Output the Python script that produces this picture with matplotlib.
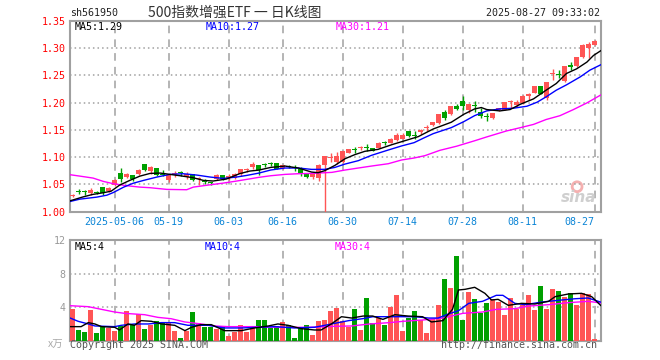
import matplotlib.pyplot as plt
import numpy as np

# daily candles, index 0 = first candle on the left
opens = [1.029, 1.0375, 1.0355, 1.0338, 1.0345, 1.0442, 1.0375, 1.0491, 1.0706, 1.0637,
         1.0665, 1.0695, 1.0866, 1.0743, 1.0792, 1.0694, 1.0584, 1.069, 1.0712, 1.0632,
         1.0682, 1.060, 1.0544, 1.0523, 1.0596, 1.0669, 1.062, 1.062, 1.0682, 1.0765,
         1.0811, 1.0848, 1.0865, 1.0882, 1.0884, 1.0799, 1.0828, 1.0803, 1.0786, 1.0688,
         1.0627, 1.0615, 1.086, 1.0983, 1.0909, 1.0909, 1.1081, 1.1145, 1.1168, 1.117,
         1.1167, 1.1167, 1.1268, 1.1265, 1.1314, 1.1339, 1.148, 1.1391, 1.1455, 1.1541,
         1.159, 1.1627, 1.1836, 1.1787, 1.1946, 1.2032, 1.186, 1.1937, 1.1836, 1.1741,
         1.1713, 1.1861, 1.1873, 1.2003, 1.1959, 1.1996, 1.2118, 1.218, 1.2302, 1.2082,
         1.252, 1.2514, 1.2389, 1.2695, 1.2671, 1.2843, 1.3003, 1.3064]
highs = [1.033, 1.041, 1.039, 1.0435, 1.037, 1.0442, 1.0455, 1.059, 1.080, 1.0712,
         1.0675, 1.079, 1.0875, 1.0845, 1.080, 1.0755, 1.0694, 1.0745, 1.0745, 1.0718,
         1.0694, 1.0632, 1.0602, 1.055, 1.0694, 1.0672, 1.0694, 1.070, 1.078, 1.0792,
         1.0909, 1.0848, 1.0885, 1.0905, 1.089, 1.086, 1.0848, 1.0848, 1.0823, 1.0692,
         1.072, 1.0872, 1.1026, 1.1069, 1.1093, 1.1105, 1.1142, 1.1179, 1.1204, 1.124,
         1.1167, 1.127, 1.1302, 1.1351, 1.1449, 1.1437, 1.148, 1.1486, 1.151, 1.1584,
         1.165, 1.179, 1.186, 1.194, 1.1983, 1.2118, 1.1983, 1.2032, 1.191, 1.1811,
         1.1811, 1.191, 1.2008, 1.2045, 1.2045, 1.2143, 1.218, 1.2302, 1.2302, 1.2376,
         1.2622, 1.2597, 1.2671, 1.2745, 1.2843, 1.3076, 1.3113, 1.315]
lows = [1.026, 1.033, 1.030, 1.031, 1.032, 1.0295, 1.035, 1.047, 1.055, 1.062,
        1.056, 1.067, 1.074, 1.069, 1.065, 1.0645, 1.054, 1.063, 1.0645, 1.060,
        1.056, 1.048, 1.0498, 1.049, 1.0572, 1.0585, 1.0572, 1.060, 1.0645, 1.0725,
        1.0787, 1.0676, 1.0823, 1.084, 1.078, 1.078, 1.080, 1.0737, 1.0651, 1.0615,
        1.0602, 1.0565, 0.98, 1.0909, 1.0878, 1.089, 1.107, 1.1081, 1.1137, 1.1106,
        1.1106, 1.116, 1.1216, 1.1253, 1.1302, 1.1327, 1.137, 1.1339, 1.143, 1.148,
        1.158, 1.160, 1.1688, 1.178, 1.186, 1.186, 1.1811, 1.1836, 1.1726, 1.1664,
        1.170, 1.185, 1.186, 1.191, 1.192, 1.1971, 1.2045, 1.217, 1.215, 1.2045,
        1.2425, 1.245, 1.238, 1.2597, 1.266, 1.2818, 1.2818, 1.3052]
closes = [1.031, 1.0365, 1.035, 1.0387, 1.034, 1.0338, 1.043, 1.0583, 1.059, 1.0685,
          1.059, 1.0768, 1.0756, 1.0817, 1.067, 1.067, 1.067, 1.0705, 1.0702, 1.0694,
          1.0583, 1.0614, 1.0536, 1.0515, 1.0669, 1.0596, 1.0657, 1.0694, 1.078, 1.0775,
          1.0872, 1.0762, 1.0855, 1.0874, 1.0786, 1.0848, 1.082, 1.0797, 1.070, 1.0627,
          1.0713, 1.086, 1.1014, 1.0995, 1.1014, 1.1105, 1.1142, 1.1138, 1.1175, 1.1163,
          1.1118, 1.1265, 1.126, 1.1327, 1.1412, 1.1412, 1.1388, 1.1385, 1.150, 1.1547,
          1.164, 1.1787, 1.1713, 1.1934, 1.1885, 1.1934, 1.1983, 1.193, 1.1762, 1.1735,
          1.1811, 1.1897, 1.2008, 1.201, 1.2008, 1.2118, 1.2155, 1.2302, 1.2155, 1.2376,
          1.2526, 1.2508, 1.2671, 1.2646, 1.2843, 1.3052, 1.3076, 1.3138]
volumes = [3.8, 1.26, 1.02, 3.66, 0.9, 1.66, 1.5, 1.18, 1.74, 3.54,
           1.82, 3.14, 1.38, 1.82, 2.34, 2.06, 2.06, 1.18, 0.3, 1.18,
           3.42, 2.14, 1.66, 1.66, 1.38, 1.66, 0.54, 1.02, 1.82, 1.02,
           1.66, 2.46, 2.46, 1.5, 1.74, 2.22, 1.82, 0.3, 1.66, 1.82,
           0.62, 2.34, 2.46, 3.54, 3.9, 2.34, 1.66, 3.74, 1.26, 5.1,
           2.1, 2.7, 1.9, 4.0, 5.45, 1.14, 2.7, 3.5, 2.42, 0.94,
           2.62, 4.25, 7.36, 6.28, 10.1, 2.46, 5.8, 4.97, 3.33, 4.53,
           4.97, 4.65, 3.05, 5.1, 3.78, 4.25, 5.45, 3.66, 6.5, 3.78,
           6.17, 5.93, 5.21, 5.69, 4.25, 5.69, 5.6, 0.18]

tick_idx = [7, 16, 26, 35, 45, 55, 65, 75, 87]
tick_labels = ["2025-05-06", "05-19", "06-03", "06-16", "06-30",
               "07-14", "07-28", "08-11", "08-27"]
price_ticks = [1.00, 1.05, 1.10, 1.15, 1.20, 1.25, 1.30, 1.35]
vol_ticks = [4, 8, 12]

# moving average curves (candle index, value)
ma5_x = [-0.45, 1.6, 3.3, 5, 6.4, 7.8, 9.5, 11.2, 12.9, 14.6, 16.2, 17.9, 20.1, 21.8, 23.4,
         25.6, 27.8, 29.5, 31, 33, 35.4, 37.6, 39.8, 40.9, 42, 43.7, 45.4, 47, 48.7, 50.9,
         53.2, 55.4, 57.6, 60.1, 63.1, 65.2, 67, 68.1, 69, 71.2, 72.9, 74.6, 76.8, 78.9,
         80.6, 82.3, 84, 85.7, 86.8, 88]
ma5_y = [1.0196, 1.0264, 1.0313, 1.0343, 1.0373, 1.0483, 1.0571, 1.065, 1.070, 1.0706,
         1.0682, 1.0657, 1.062, 1.0571, 1.056, 1.0596, 1.0694, 1.0743, 1.076, 1.081,
         1.0835, 1.0799, 1.0725, 1.0713, 1.075, 1.0847, 1.097, 1.1044, 1.1106, 1.1142,
         1.1228, 1.1302, 1.1376, 1.1517, 1.164, 1.1787, 1.1885, 1.191, 1.1873, 1.1848,
         1.1873, 1.197, 1.2069, 1.2229, 1.2352, 1.2536, 1.2622, 1.2745, 1.2867, 1.2953]
ma10_x = [-0.45, 1.2, 4, 5.7, 6.8, 8.5, 10.1, 11.8, 14, 16.2, 18.4, 20.7, 22.9, 25.1, 27.3,
          29, 31, 33, 35.4, 37.6, 39.8, 42, 43.7, 45.4, 47.6, 49.8, 52.6, 54.8, 56.9, 58.5,
          60.1, 63.1, 65.2, 67, 69, 71.2, 73.4, 75.7, 77.4, 78.9, 80.6, 82.3, 84.6, 86.2, 88]
ma10_y = [1.0184, 1.0227, 1.0264, 1.030, 1.035, 1.0448, 1.052, 1.0571, 1.0632, 1.0682,
          1.0694, 1.0669, 1.0633, 1.0608, 1.0633, 1.0663, 1.0705, 1.0762, 1.0799, 1.0799,
          1.0774, 1.0774, 1.081, 1.0872, 1.0934, 1.1032, 1.113, 1.1204, 1.1265, 1.135,
          1.1431, 1.1541, 1.1652, 1.1762, 1.1848, 1.1885, 1.1897, 1.1934, 1.2008, 1.2106,
          1.2229, 1.2327, 1.2474, 1.2597, 1.2695]
ma30_x = [-0.45, 1.2, 3.4, 5.1, 6.8, 9, 11.2, 12.9, 15.7, 19, 20.1, 21.8, 25.1, 27.3, 29,
          31, 33, 35.4, 37.6, 39.8, 43.2, 45.4, 47.6, 49.8, 52.6, 54.8, 56.9, 58.7, 61.2,
          64, 67, 69, 72.3, 74.6, 76.8, 78.9, 81.2, 83.4, 85.7, 88]
ma30_y = [1.0676, 1.065, 1.0614, 1.0553, 1.051, 1.0474, 1.0448, 1.0437, 1.0406, 1.040,
          1.0448, 1.0474, 1.0522, 1.0559, 1.059, 1.0627, 1.0657, 1.0682, 1.0694, 1.070,
          1.0719, 1.0762, 1.0799, 1.0835, 1.0878, 1.0946, 1.0983, 1.1026, 1.1124, 1.120,
          1.130, 1.137, 1.148, 1.154, 1.160, 1.169, 1.176, 1.187, 1.1995, 1.214]

vma5_x = [-0.45, 1.4, 2.6, 3.7, 4.8, 7, 7.8, 9.2, 10.3, 11.4, 13.1, 14.8, 17, 18.7, 19.8,
          21.4, 23.1, 25.3, 28.1, 30.3, 32.6, 34.2, 35.9, 38.1, 40.3, 41.4, 43.1, 44.8,
          46.5, 48.4, 50, 51.7, 53.7, 55.9, 58.3, 59.8, 61.7, 63.3, 64.3, 65.4, 67, 68.7,
          69.8, 70.9, 72.6, 74.8, 77, 79.3, 80.4, 82.6, 84.8, 86.5, 88]
vma5_y = [1.66, 1.66, 2.14, 1.98, 1.66, 1.58, 1.26, 1.98, 1.82, 2.38, 2.30, 1.98, 1.82,
          1.18, 1.58, 1.9, 1.9, 1.18, 1.18, 1.5, 1.74, 1.98, 1.82, 1.42, 1.26, 1.26, 1.98,
          2.85, 2.69, 2.93, 2.93, 2.53, 3.09, 2.93, 2.85, 2.22, 2.38, 3.73, 6.05, 6.13,
          6.37, 5.65, 4.85, 4.93, 4.21, 4.45, 4.37, 4.69, 5.25, 5.57, 5.65, 5.25, 4.2]
vma10_x = [-0.45, 0.9, 2.6, 3.7, 7, 8.1, 10.3, 12.6, 14.8, 17, 19.2, 22.6, 25.3, 28.1,
           30.9, 33.7, 37, 40.3, 42.6, 44, 46, 48.4, 50, 53.7, 57.1, 59.3, 60.9, 62.6,
           64.3, 66, 68.3, 70.6, 71.7, 73.7, 75.4, 78.2, 81.5, 83.7, 85.9, 88]
vma10_y = [2.7, 2.30, 1.98, 1.74, 1.66, 1.82, 1.98, 1.98, 2.14, 2.14, 1.82, 1.82, 1.5,
           1.5, 1.58, 1.66, 1.5, 1.58, 1.9, 2.1, 2.38, 2.62, 2.85, 2.85, 2.85, 2.69, 2.69,
           3.17, 3.57, 4.45, 4.69, 5.41, 5.41, 4.45, 4.29, 4.61, 4.85, 5.0, 5.09, 4.6]
vma30_x = [-0.45, 2.6, 4.8, 7, 8.7, 12, 14.2, 16.4, 18.7, 21.4, 23.7, 25.9, 30.3, 34.8,
           39.2, 43.7, 46.5, 49.5, 52.8, 55.1, 58.4, 61.7, 65, 68.3, 70.6, 73.7, 76, 79.3,
           82.6, 85.9, 88]
vma30_y = [4.17, 4.05, 3.73, 3.41, 3.25, 3.09, 2.77, 2.61, 2.22, 1.98, 1.74, 1.66, 1.66,
           1.58, 1.58, 1.70, 1.74, 1.98, 2.14, 2.30, 2.46, 2.69, 3.25, 3.41, 3.73, 3.81,
           4.13, 4.29, 4.53, 4.69, 4.5]

UP = "#ff5555"
DOWN = "#00a000"
FRAME = "#a0a0a0"
RULE = "#a0a0a0"
MONO = "DejaVu Sans Mono"
CJK = ["Noto Sans CJK SC", "DejaVu Sans"]

W, H = 660, 360
fig = plt.figure(figsize=(6.6, 3.6), dpi=100)
fig.patch.set_facecolor("white")

ax = fig.add_axes([70 / W, 1 - 211.5 / H, 531 / W, 190.5 / H])
ax2 = fig.add_axes([70 / W, 1 - 340.5 / H, 531 / W, 100.2 / H])

x = np.arange(len(opens))
o = np.array(opens)
c = np.array(closes)
col = np.where(c >= o, UP, DOWN)

for a, ylim in ((ax, (1.00, 1.35)), (ax2, (0, 12))):
    a.set_xlim(-0.45, 88.05)
    a.set_ylim(*ylim)
    for s in a.spines.values():
        s.set_color(FRAME)
        s.set_linewidth(1.5)

# dashed date rules and dotted level rules, first so they sit under the marks
ax.vlines(tick_idx, 1.00, 1.35, colors=RULE, linestyles=[(0, (5, 4))], linewidth=1.1, zorder=2.6)
ax.hlines(price_ticks[1:-1], -0.45, 88.05, colors=RULE, linestyles=[(0, (1, 2))],
          linewidth=1.1, zorder=2.6)
ax2.vlines(tick_idx, 0, 12, colors=RULE, linestyles=[(0, (5, 4))], linewidth=1.1, zorder=2.6)
ax2.hlines(vol_ticks[:-1], -0.45, 88.05, colors=RULE, linestyles=[(0, (1, 2))],
           linewidth=1.1, zorder=2.6)

# ---- candles ----
ax.vlines(x, lows, highs, colors=col, linewidth=1, zorder=3)
ax.bar(x, np.maximum(np.abs(c - o), 0.0018), bottom=np.minimum(o, c),
       width=0.78, color=col, linewidth=0, zorder=3)

ax.plot(ma30_x, ma30_y, color="#ff00ff", lw=1.0, zorder=4)
ax.plot(ma10_x, ma10_y, color="#0000ff", lw=1.0, zorder=4)
ax.plot(ma5_x, ma5_y, color="black", lw=1.0, zorder=4)

ax.set_yticks(price_ticks)
ax.set_yticklabels([f"{v:.2f}" for v in price_ticks])
ax.set_xticks(tick_idx)
ax.set_xticklabels(tick_labels)
ax.get_xticklabels()[-1].set_ha("right")
ax.tick_params(axis="both", length=0, labelsize=7.2)
ax.tick_params(axis="y", colors="red", pad=3)
ax.tick_params(axis="x", colors="#0a84d6", pad=4)
for lab in ax.get_xticklabels() + ax.get_yticklabels():
    lab.set_family(MONO)

# sina watermark
ax.text(0.992, 0.035, "sina", transform=ax.transAxes, ha="right", va="bottom",
        fontsize=11, fontstyle="italic", fontweight="bold", color="#cfcfcf")
ax.scatter([0.955], [0.13], s=50, transform=ax.transAxes, facecolor="none",
           edgecolor="#f5b0b0", lw=2, zorder=2)

# ---- volume ----
ax2.bar(x, volumes, width=0.74, color=col, linewidth=0, zorder=3)
ax2.plot(vma30_x, vma30_y, color="#ff00ff", lw=1.0, zorder=4)
ax2.plot(vma10_x, vma10_y, color="#0000ff", lw=1.0, zorder=4)
ax2.plot(vma5_x, vma5_y, color="black", lw=1.0, zorder=4)
ax2.set_yticks(vol_ticks)
ax2.set_xticks([])
ax2.tick_params(axis="both", length=0, labelsize=7.2)
ax2.tick_params(axis="y", colors="#999999", pad=3)
for lab in ax2.get_yticklabels():
    lab.set_family(MONO)

# ---- texts ----
fig.text(70 / W, 1 - 13 / H, "sh561950", family=MONO, fontsize=7.2, color="#222222", va="center")
fig.text(235 / W, 1 - 13 / H, "500指数增强ETF 一 日K线图", family=CJK, fontsize=10,
         color="#333333", ha="center", va="center")
fig.text(600 / W, 1 - 13 / H, "2025-08-27 09:33:02", family=MONO, fontsize=7.2,
         color="#222222", ha="right", va="center")

fig.text(75 / W, 1 - 27 / H, "MA5:1.29", family=MONO, fontsize=7.2, color="black", va="center")
fig.text(206 / W, 1 - 27 / H, "MA10:1.27", family=MONO, fontsize=7.2, color="#0000ff", va="center")
fig.text(336 / W, 1 - 27 / H, "MA30:1.21", family=MONO, fontsize=7.2, color="#ff00ff", va="center")

fig.text(75 / W, 1 - 247 / H, "MA5:4", family=MONO, fontsize=7.2, color="black", va="center")
fig.text(205 / W, 1 - 247 / H, "MA10:4", family=MONO, fontsize=7.2, color="#0000ff", va="center")
fig.text(335 / W, 1 - 247 / H, "MA30:4", family=MONO, fontsize=7.2, color="#ff00ff", va="center")

fig.text(63 / W, 1 - 345 / H, "x万", family=CJK, fontsize=7.5, color="#aaaaaa",
         ha="right", va="center")
fig.text(70 / W, 1 - 345 / H, "Copyright 2025 SINA.COM", family=MONO, fontsize=7.2,
         color="#555555", va="center")
fig.text(597 / W, 1 - 345 / H, "http://finance.sina.com.cn", family=MONO, fontsize=7.2,
         color="#555555", ha="right", va="center")

fig.savefig("out.png", dpi=100)
